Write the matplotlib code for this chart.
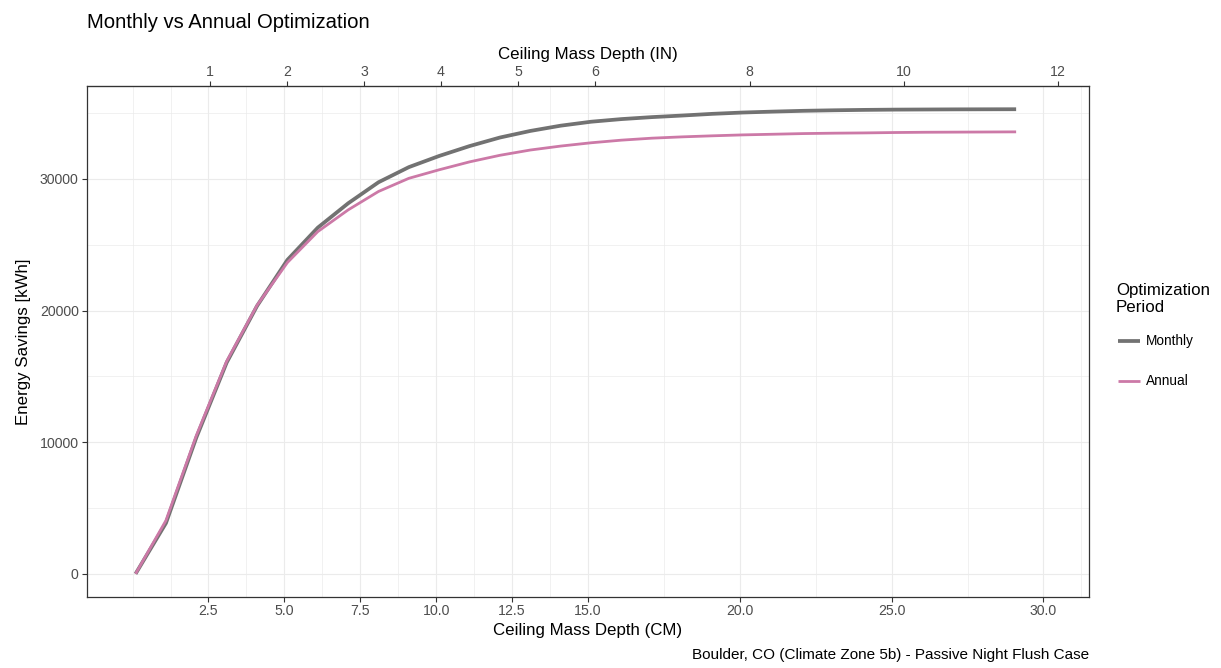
import matplotlib
matplotlib.use("Agg")
import matplotlib.pyplot as plt
from matplotlib.lines import Line2D
import numpy as np

plt.rcParams['font.family'] = ['Liberation Sans', 'DejaVu Sans']

# Ceiling mass depth (cm) and energy savings (kWh)
depth_cm = [0.1, 1.1, 2.1, 3.1, 4.1, 5.1, 6.1, 7.1, 8.1, 9.1,
            10.1, 11.1, 12.1, 13.1, 14.1, 15.1, 16.1, 17.1, 18.1, 19.1,
            20.1, 21.1, 22.1, 23.1, 24.1, 25.1, 26.1, 27.1, 28.1, 29.1]
monthly = [0, 3850, 10350, 16050, 20350, 23850, 26300, 28150, 29750, 30900,
           31750, 32500, 33150, 33650, 34050, 34350, 34550, 34700, 34820, 34950,
           35050, 35120, 35180, 35220, 35250, 35270, 35280, 35290, 35295, 35300]
annual = [0, 4050, 10500, 16150, 20400, 23650, 26000, 27650, 29050, 30050,
          30700, 31300, 31800, 32200, 32500, 32750, 32950, 33100, 33200, 33280,
          33350, 33400, 33450, 33480, 33500, 33530, 33550, 33560, 33570, 33580]

cm_breaks = [2.5, 5.0, 7.5, 10.0, 12.5, 15.0, 20.0, 25.0, 30.0]
cm_minor = [0.0, 1.25, 3.75, 6.25, 8.75, 11.25, 13.75, 17.5, 22.5, 27.5, 31.25]
in_breaks = [1, 2, 3, 4, 5, 6, 8, 10, 12]
y_breaks = [0, 10000, 20000, 30000]
y_minor = [5000, 15000, 25000, 35000]

series_names = ["Monthly", "Annual"]
series_colors = ["#727272", "#CC79A7"]
series_widths = [2.7, 2.0]

W, H = 1221, 668
fig = plt.figure(figsize=(W / 100, H / 100), dpi=100)
ax = fig.add_axes([87 / W, 1 - 597 / H, (1089 - 87) / W, (597 - 86) / H])

dark = "#333333"
tick_col = "#4D4D4D"
grid_col = "#EBEBEB"
tick_size = 10.2
title_size = 12.2

# Panel grid
for v in cm_breaks:
    ax.axvline(v, color=grid_col, lw=0.8, zorder=0)
for v in cm_minor:
    ax.axvline(v, color=grid_col, lw=0.5, zorder=0)
for v in y_breaks:
    ax.axhline(v, color=grid_col, lw=0.8, zorder=0)
for v in y_minor:
    ax.axhline(v, color=grid_col, lw=0.5, zorder=0)

for vals, name, col, lw in zip([monthly, annual], series_names, series_colors, series_widths):
    ax.plot(depth_cm, vals, color=col, lw=lw, label=name, solid_capstyle="butt", zorder=2)

xlo, xhi = 0.0, 30.0
xpad = 0.05 * (xhi - xlo)
ax.set_xlim(xlo - xpad, xhi + xpad)
ylo, yhi = 0, max(max(monthly), max(annual))
ypad = 0.05 * (yhi - ylo)
ax.set_ylim(ylo - ypad, yhi + ypad)

ax.set_xticks(cm_breaks)
ax.set_xticklabels([f"{v:.1f}" for v in cm_breaks])
ax.set_yticks(y_breaks)
ax.set_yticklabels([str(v) for v in y_breaks])
ax.tick_params(axis="both", length=3.5, width=0.8, color=dark, labelcolor=tick_col,
               labelsize=tick_size, pad=2.5)
ax.tick_params(axis="x", pad=1.5)
for s in ax.spines.values():
    s.set_color(dark)
    s.set_linewidth(0.9)

ax.set_xlabel("Ceiling Mass Depth (CM)", fontsize=title_size, labelpad=4)
ax.set_ylabel("Energy Savings [kWh]", fontsize=title_size, labelpad=6)

# Secondary axis in inches
sec = ax.secondary_xaxis("top", functions=(lambda x: x / 2.54, lambda x: x * 2.54))
sec.set_xticks(in_breaks)
sec.set_xticklabels([str(v) for v in in_breaks])
sec.tick_params(length=3.5, width=0.8, color=dark, labelcolor=tick_col,
                labelsize=tick_size, pad=1.5)
sec.spines["top"].set_color(dark)
sec.set_xlabel("Ceiling Mass Depth (IN)", fontsize=title_size, labelpad=4)

fig.text(87 / W, 1 - 22 / H, "Monthly vs Annual Optimization", fontsize=14.6,
         ha="left", va="center")
fig.text(1089 / W, 1 - 655 / H, "Boulder, CO (Climate Zone 5b) - Passive Night Flush Case",
         fontsize=11.0, ha="right", va="center")

# Legend drawn as figure-level text and key lines
fig.text(1116 / W, 1 - 299 / H, "Optimization\nPeriod", fontsize=title_size,
         ha="left", va="center", linespacing=1.12)
key_y = [341, 381]
for name, col, lw, yy in zip(series_names, series_colors, series_widths, key_y):
    fig.add_artist(Line2D([1118 / W, 1140 / W], [1 - yy / H, 1 - yy / H],
                          color=col, lw=lw, transform=fig.transFigure,
                          solid_capstyle="butt"))
    fig.text(1146 / W, 1 - yy / H, name, fontsize=9.8, ha="left", va="center")

fig.savefig("out.png", dpi=100)
